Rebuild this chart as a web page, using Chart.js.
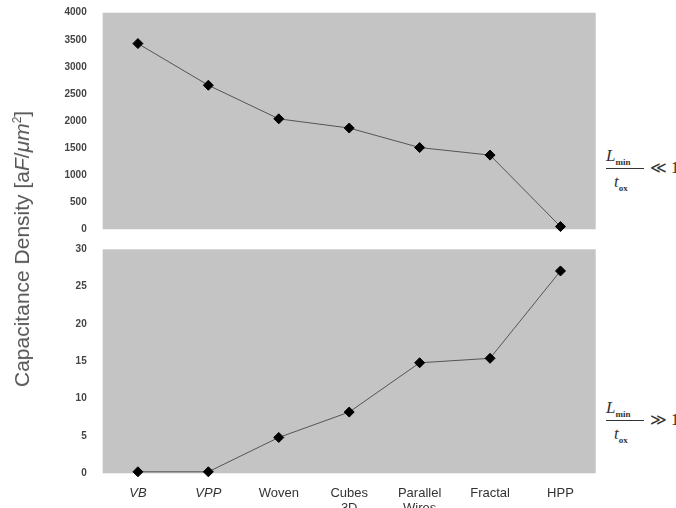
<!DOCTYPE html>
<html>
<head>
<meta charset="utf-8">
<script src="https://cdn.jsdelivr.net/npm/chart.js@4.4.0/dist/chart.umd.min.js"></script>
<style>
  html, body { margin: 0; padding: 0; background: #fff; overflow: hidden; }
  body { width: 676px; height: 508px; position: relative; }
  .panel { position: absolute; left: 0; width: 600px; }
  #top { top: 0; height: 240px; }
  #bottom { top: 240px; height: 300px; }
  .ytitle {
    position: absolute; left: 22px; top: 249px;
    transform: translate(-50%, -50%) rotate(-90deg);
    font: 21px "Liberation Sans", Arial, sans-serif; color: #555; white-space: nowrap;
  }
  .frac { position: absolute; font-family: "Liberation Serif", serif; color: #333; }
  .frac .num, .frac .den { position: absolute; font-style: italic; font-size: 17px; }
  .frac sub { font-size: 9px; font-style: normal; font-weight: bold; }
  .frac .bar { position: absolute; height: 1px; background: #333; width: 38px; left: 0; }
  .frac .rel { position: absolute; font-size: 16px; white-space: nowrap; }
</style>
</head>
<body>
<div class="panel" id="top"><canvas id="chartTop"></canvas></div>
<div class="panel" id="bottom"><canvas id="chartBottom"></canvas></div>
<div class="ytitle">Capacitance Density [a<i>F</i>/<i>μm</i><sup style="font-size:12px">2</sup>]</div>

<div class="frac" style="left:606px; top:146px;">
  <span class="num" style="left:0; top:0;">L<sub>min</sub></span>
  <span class="bar" style="top:22px;"></span>
  <span class="den" style="left:8px; top:26px;">t<sub>ox</sub></span>
  <span class="rel" style="left:44px; top:12px;">≪ 1</span>
</div>
<div class="frac" style="left:606px; top:398px;">
  <span class="num" style="left:0; top:0;">L<sub>min</sub></span>
  <span class="bar" style="top:22px;"></span>
  <span class="den" style="left:8px; top:26px;">t<sub>ox</sub></span>
  <span class="rel" style="left:44px; top:12px;">≫ 1</span>
</div>

<script>
const categories = ['VB', 'VPP', 'Woven', ['Cubes', '3D'], ['Parallel', 'Wires'], 'Fractal', 'HPP'];
const densitySmallL = [3430, 2660, 2040, 1870, 1510, 1370, 50];
const densityLargeL = [0.2, 0.2, 4.8, 8.2, 14.8, 15.4, 27.1];
const ticksTop = [0, 500, 1000, 1500, 2000, 2500, 3000, 3500, 4000];
const ticksBottom = [0, 5, 10, 15, 20, 25, 30];

const plotBg = {
  id: 'plotBg',
  beforeDraw(chart) {
    const a = chart.chartArea;
    const c = chart.ctx;
    c.save();
    c.fillStyle = '#c4c4c4';
    c.fillRect(a.left, a.top, a.right - a.left, a.bottom - a.top);
    c.restore();
  }
};

function makePanel(id, values, yTicks, yMax, showX, pad) {
  const ctx = document.getElementById(id).getContext('2d');
  return new Chart(ctx, {
    type: 'line',
    data: {
      labels: categories,
      datasets: [{
        data: values,
        borderColor: '#555',
        borderWidth: 1,
        pointStyle: 'rectRot',
        pointRadius: 5,
        pointBackgroundColor: '#000',
        pointBorderColor: '#000',
        tension: 0,
        clip: false
      }]
    },
    options: {
      responsive: true,
      maintainAspectRatio: false,
      animation: false,
      layout: { padding: pad, autoPadding: false },
      plugins: { legend: { display: false }, tooltip: { enabled: false } },
      scales: {
        x: {
          display: showX,
          offset: true,
          grid: { display: false, drawTicks: false },
          border: { display: false },
          ticks: {
            padding: 12,
            color: '#333',
            autoSkip: false,
            maxRotation: 0,
            font: (c) => ({ family: 'Liberation Sans', size: 13, style: c.index < 2 ? 'italic' : 'normal' })
          },
          afterFit(s) {
            s.height = showX ? 66.7 : 0;
            s.paddingLeft = 0; s.paddingRight = 0;
          }
        },
        y: {
          min: 0,
          max: yMax,
          grid: { display: false, drawTicks: false },
          border: { display: false },
          afterBuildTicks(s) { s.ticks = yTicks.map(v => ({ value: v })); },
          ticks: {
            padding: 16,
            color: '#444',
            callback: (v) => String(v),
            font: { family: 'Liberation Sans', size: 10, weight: 'bold' }
          },
          afterFit(s) {
            s.width = 102.7;
            s.paddingTop = 0; s.paddingBottom = 0;
          }
        }
      }
    },
    plugins: [plotBg]
  });
}

makePanel('chartTop', densitySmallL, ticksTop, 4000, false, { top: 12.7, bottom: 10.7, left: 0, right: 4.3 });
makePanel('chartBottom', densityLargeL, ticksBottom, 30, true, { top: 9.3, bottom: 0, left: 0, right: 4.3 });
</script>
</body>
</html>
